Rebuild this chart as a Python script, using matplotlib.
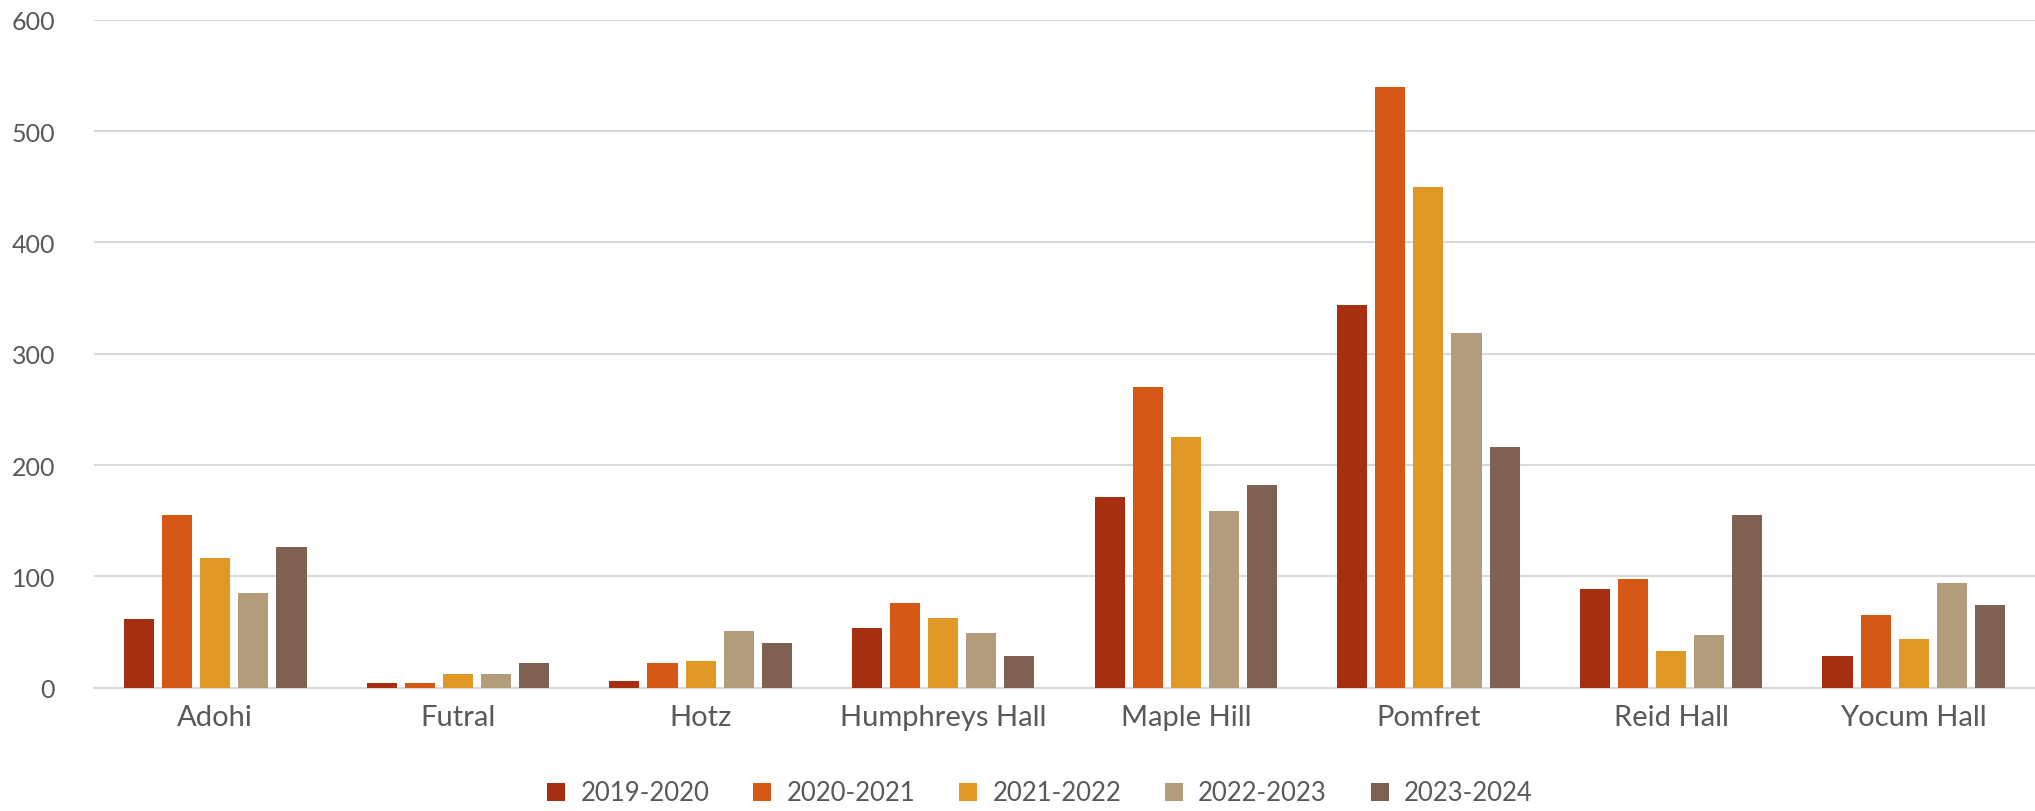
import matplotlib
matplotlib.use("Agg")
import matplotlib.pyplot as plt
import numpy as np

categories = ["Adohi", "Futral", "Hotz", "Humphreys Hall", "Maple Hill", "Pomfret", "Reid Hall", "Yocum Hall"]
series_names = ["2019-2020", "2020-2021", "2021-2022", "2022-2023", "2023-2024"]
v2019 = [62, 4, 6, 54, 171, 344, 89, 29]
v2020 = [155, 4, 22, 76, 270, 540, 98, 65]
v2021 = [117, 12, 24, 63, 225, 450, 33, 44]
v2022 = [85, 12, 51, 49, 159, 319, 47, 94]
v2023 = [126, 22, 40, 29, 182, 216, 155, 74]
yticks = [0, 100, 200, 300, 400, 500, 600]

series = [v2019, v2020, v2021, v2022, v2023]
colors = ["#A52F10", "#D55816", "#E09926", "#B39C7C", "#7F6052"]
text_color = "#595959"
grid_color = "#D9D9D9"

plt.rcParams['font.family'] = ['Lato', 'DejaVu Sans']

fig = plt.figure(figsize=(20.35, 8.12), dpi=100)
ax = fig.add_axes([94/2035, 123.2/812, (2035-94)/2035, 668.1/812])

x = np.arange(len(categories))
slot = 0.157
bw = 0.124
for i, (vals, c, name) in enumerate(zip(series, colors, series_names)):
    ax.bar(x + (i - 2) * slot, vals, width=bw, color=c, label=name, zorder=3)

ax.set_xlim(-0.5, len(categories) - 0.5)
ax.set_ylim(0, 600)
ax.set_yticks(yticks)
ax.set_yticklabels([str(t) for t in yticks])
ax.set_xticks(x)
ax.set_xticklabels(categories)
ax.yaxis.grid(True, color=grid_color, linewidth=1.5, zorder=0)
ax.set_axisbelow(True)
for s in ["top", "right", "left"]:
    ax.spines[s].set_visible(False)
ax.spines["bottom"].set_color(grid_color)
ax.spines["bottom"].set_linewidth(1.5)
ax.tick_params(axis="both", length=0, colors=text_color)
ax.tick_params(axis="y", labelsize=18, pad=28)
ax.tick_params(axis="x", labelsize=21, pad=12)

leg = ax.legend(loc="center", bbox_to_anchor=(1040/2035, 1 - 794/812), bbox_transform=fig.transFigure,
                ncol=5, frameon=False, fontsize=18.5, handlelength=0.7, handleheight=0.7,
                columnspacing=1.7, handletextpad=0.6, labelcolor=text_color)

fig.savefig("out.png", dpi=100, facecolor="white")
